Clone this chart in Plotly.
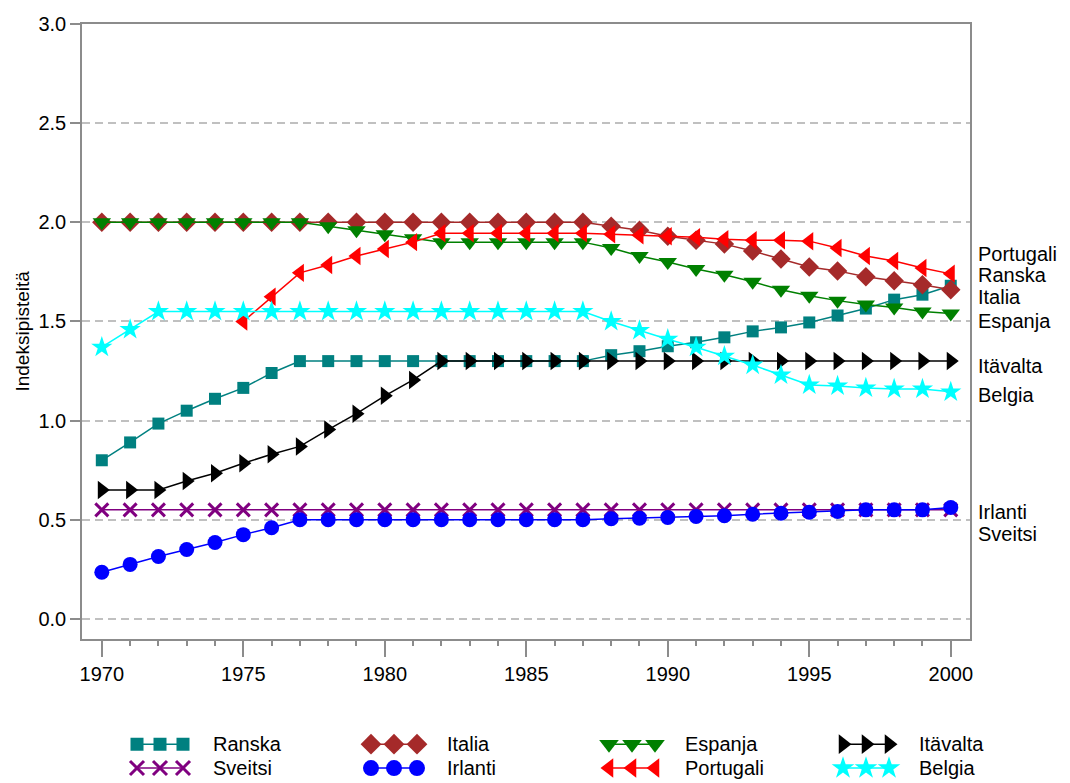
import plotly.graph_objects as go

years = list(range(1970, 2001))

ranska = [0.80, 0.89, 0.985, 1.05, 1.11, 1.165, 1.24] + [1.30] * 11 + \
    [1.33, 1.35, 1.375, 1.395, 1.42, 1.45, 1.47, 1.495, 1.53, 1.565, 1.61, 1.635, 1.68]
italia = [2.0] * 18 + \
    [1.98, 1.96, 1.93, 1.91, 1.89, 1.855, 1.815, 1.775, 1.755, 1.725, 1.705, 1.685, 1.66]
espanja = [2.0] * 8 + [1.98, 1.96, 1.94, 1.92] + [1.90] * 6 + \
    [1.87, 1.83, 1.80, 1.765, 1.735, 1.70, 1.66, 1.63, 1.605, 1.585, 1.57, 1.55, 1.54]
itavalta = [0.65, 0.65, 0.65, 0.695, 0.735, 0.785, 0.83, 0.87, 0.955, 1.035, 1.125, 1.205] + [1.30] * 19
sveitsi = [0.55] * 31
irlanti = [0.235, 0.275, 0.315, 0.35, 0.385, 0.425, 0.46] + [0.50] * 11 + \
    [0.505, 0.508, 0.512, 0.517, 0.52, 0.528, 0.533, 0.538, 0.542, 0.55, 0.55, 0.55, 0.562]
portugali = [None] * 5 + [1.50, 1.625, 1.745, 1.785, 1.83, 1.865, 1.90] + [1.945] * 6 + \
    [1.94, 1.935, 1.93, 1.925, 1.915, 1.91, 1.91, 1.905, 1.87, 1.83, 1.805, 1.77, 1.74]
belgia = [1.37, 1.46] + [1.55] * 16 + \
    [1.50, 1.455, 1.41, 1.37, 1.325, 1.28, 1.23, 1.18, 1.175, 1.165, 1.16, 1.16, 1.145]

# name, values, colour, symbol, size
series = [
    ("Ranska", ranska, "#008080", "square", 12),
    ("Italia", italia, "#a52a2a", "diamond", 15),
    ("Espanja", espanja, "#008000", "triangle-down", 16),
    ("Itävalta", itavalta, "#000000", "triangle-right", 16),
    ("Sveitsi", sveitsi, "#800080", "x-thin", 13),
    ("Irlanti", irlanti, "#0000ff", "circle", 15),
    ("Portugali", portugali, "#ff0000", "triangle-left", 16),
    ("Belgia", belgia, "#00ffff", "star", 16),
]

# end labels to the right of the plot (label, y level)
end_labels = [("Portugali", 1.84), ("Ranska", 1.735), ("Italia", 1.625), ("Espanja", 1.50),
              ("Itävalta", 1.275), ("Belgia", 1.13), ("Irlanti", 0.54), ("Sveitsi", 0.43)]

FONT = "Liberation Sans, Arial, sans-serif"
AXC = "#8c8c8c"

fig = go.Figure()

def marker_for(col, sym, size):
    if sym == "x-thin":
        return dict(symbol=sym, size=size, color=col, line=dict(color=col, width=3))
    return dict(symbol=sym, size=size, color=col, line=dict(width=0))

for name, vals, col, sym, size in series:
    fig.add_trace(go.Scatter(
        x=years, y=vals, name=name, mode="lines+markers",
        line=dict(color=col, width=1.5),
        marker=marker_for(col, sym, size),
        showlegend=False))

# hand-made legend below the plot, three markers per entry
leg_x = [137, 371, 609, 843]
leg_y = [744, 768]
for i, (name, vals, col, sym, size) in enumerate(series):
    cx = leg_x[i % 4]
    cy = leg_y[i // 4]
    fig.add_trace(go.Scatter(
        x=[cx, cx + 23, cx + 46], y=[cy, cy, cy], mode="lines+markers",
        line=dict(color=col, width=1.5),
        marker=marker_for(col, sym, size + 1),
        xaxis="x2", yaxis="y2", showlegend=False, hoverinfo="skip"))
    fig.add_annotation(x=cx + 74, y=cy, xref="x2", yref="y2", text=name,
                       showarrow=False, xanchor="left", yanchor="middle",
                       font=dict(size=20, color="black", family=FONT))

for txt, yv in end_labels:
    fig.add_annotation(x=1, y=yv, xref="paper", yref="y", text=txt, showarrow=False,
                       xanchor="left", yanchor="middle", xshift=6,
                       font=dict(size=20, color="black", family=FONT))

# the page body adds an 8px offset, so the figure is 8px smaller and margins shifted
fig.update_layout(
    width=1062, height=775,
    margin=dict(l=74, r=100, t=12, b=5),
    plot_bgcolor="white", paper_bgcolor="white",
    font=dict(family=FONT, size=20, color="black"),
    xaxis=dict(range=[1969.3, 2000.68], tick0=1970, dtick=5, ticks="outside", ticklen=17,
               tickwidth=1.5, tickcolor=AXC, showline=True, linecolor=AXC, linewidth=1.5,
               mirror=True, showgrid=False, zeroline=False,
               minor=dict(dtick=1, tick0=1970, ticks="outside", ticklen=6, tickcolor=AXC,
                          tickwidth=1.5, showgrid=False),
               tickfont=dict(size=20)),
    yaxis=dict(range=[-0.1, 3.0], dtick=0.5, tickformat=".1f", ticks="outside", ticklen=10,
               tickwidth=1.5, tickcolor=AXC, showline=True, linecolor=AXC, linewidth=1.5,
               mirror=True, showgrid=True, gridcolor="#c0c0c0", gridwidth=1.5,
               griddash="8px,5px", zeroline=False, domain=[140 / 758, 1],
               title=dict(text="Indeksipisteitä", font=dict(size=19), standoff=4),
               tickfont=dict(size=20)),
    xaxis2=dict(domain=[0, 1], range=[82, 970], visible=False, anchor="y2"),
    yaxis2=dict(domain=[0, 0.1], range=[778, 702.2], visible=False, anchor="x2"),
)

fig.write_html("out.html")
